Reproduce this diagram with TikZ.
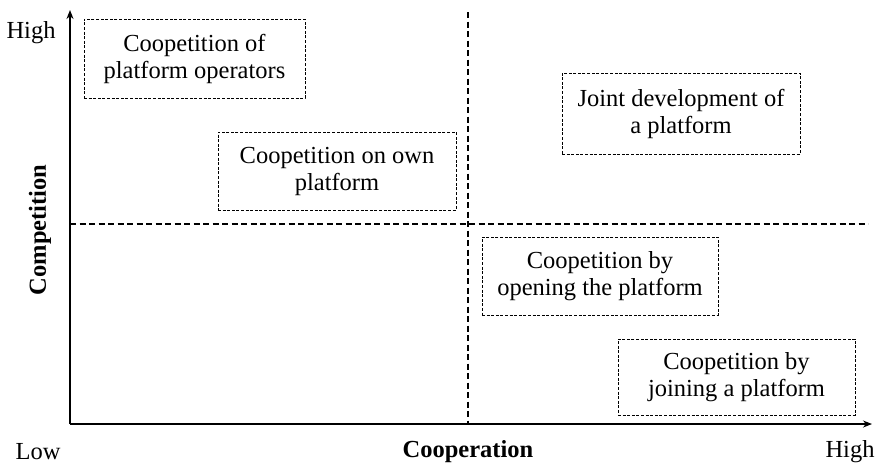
\documentclass[tikz,border=0pt]{standalone}
\usepackage{fontspec}
\setmainfont{Liberation Serif}
\usetikzlibrary{arrows.meta}
\begin{document}
\begin{tikzpicture}[x=1pt,y=-1pt,
  boxnode/.style={draw, line width=0.9pt, dash pattern=on 3pt off 1.6pt, align=center,
     font=\fontsize{24.5}{27}\selectfont, inner sep=0pt},
  axis/.style={line width=1.4pt, -{Stealth[length=9pt,width=7pt]}},
  divider/.style={line width=1.3pt, dash pattern=on 6pt off 3.5pt},
  lbl/.style={font=\fontsize{24.5}{27}\selectfont, inner sep=0pt}]
\useasboundingbox (0,0) rectangle (880,467);
\coordinate (o) at (70,424);
\coordinate (ytop) at (70,10);
\coordinate (xend) at (872,424);
\coordinate (vtop) at (468,12);
\coordinate (vbot) at (468,424);
\coordinate (hl) at (70,224);
\coordinate (hr) at (868,224);
\draw[divider] (vtop) -- (vbot);
\draw[divider] (hl) -- (hr);
\draw[axis] (o) -- (ytop);
\draw[axis] (o) -- (xend);
\node[boxnode, minimum width=221pt, minimum height=79pt] (b1) at (194.5,58.5) {Coopetition of\\platform operators};
\node[boxnode, minimum width=238pt, minimum height=78pt] (b2) at (337,171) {Coopetition on own\\platform};
\node[boxnode, minimum width=238pt, minimum height=81pt] (b3) at (681,113.5) {Joint development of\\a platform};
\node[boxnode, minimum width=236pt, minimum height=78pt] (b4) at (600,276) {Coopetition by\\opening the platform};
\node[boxnode, minimum width=237pt, minimum height=76pt] (b5) at (736.5,377) {Coopetition by\\joining a platform};
\node[lbl] (high1) at (31,33) {High};
\node[lbl] (low) at (38,452) {Low};
\node[lbl] (high2) at (850,452) {High};
\node[lbl, font=\fontsize{24.5}{27}\selectfont\bfseries] (coop) at (468,452) {Cooperation};
\node[lbl, font=\fontsize{24.5}{27}\selectfont\bfseries, rotate=90] (comp) at (40,230) {Competition};
\end{tikzpicture}
\end{document}
